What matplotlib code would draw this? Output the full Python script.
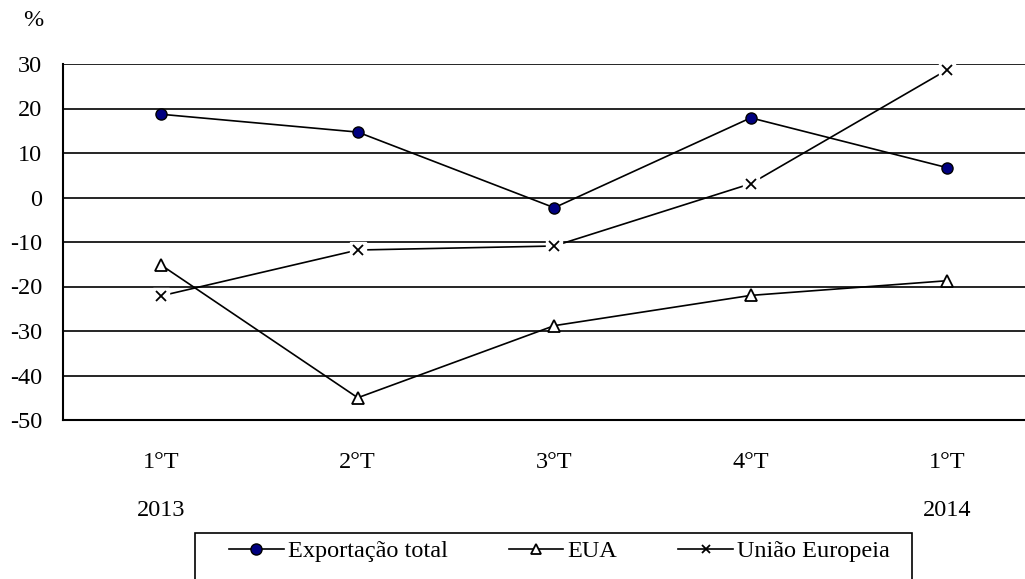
import matplotlib.pyplot as plt
from matplotlib.lines import Line2D
from matplotlib.patches import Rectangle
import numpy as np

plt.rcParams['font.family'] = ['Liberation Serif', 'DejaVu Serif']
plt.rcParams['axes.unicode_minus'] = False

quarters = ["1°T", "2°T", "3°T", "4°T", "1°T"]
years = ["2013", "", "", "", "2014"]
exportacao_total = [18.7, 14.7, -2.3, 17.9, 6.7]
eua = [-15.2, -45.0, -28.8, -22.0, -18.7]
uniao_europeia = [-22.1, -11.8, -10.9, 3.1, 28.7]

W, H = 1025, 579
fig = plt.figure(figsize=(W / 100, H / 100), dpi=100)
ax = fig.add_axes([63 / W, 1 - 420 / H, 1 - 63 / W, (420 - 64) / H])

x = np.arange(len(quarters))
fs = 17.5

# gridlines
for v in range(-40, 31, 10):
    ax.axhline(v, color="black", lw=1.2, zorder=1)

ax.plot(x, exportacao_total, color="black", lw=1.2, marker="o", ms=8,
        mfc="#000080", mec="black", mew=1, zorder=3)
ax.plot(x, eua, color="black", lw=1.2, marker="^", ms=9,
        mfc="white", mec="black", mew=1.3, zorder=3)
ax.plot(x, uniao_europeia, color="black", lw=1.2, zorder=3)
# white box behind the x markers
ax.plot(x, uniao_europeia, ls="none", marker="s", ms=11,
        mfc="white", mec="white", zorder=4)
ax.plot(x, uniao_europeia, ls="none", marker="x", ms=7,
        mec="black", mew=1.3, zorder=5)

ax.set_ylim(-50, 30)
ax.set_xlim(-0.5, -0.5 + (W - 63) / 196.5)
ax.set_yticks(range(-50, 31, 10))
ax.tick_params(axis="y", length=0, pad=15, labelsize=fs)
ax.set_xticks(x)
ax.set_xticklabels(quarters, fontsize=fs)
ax.tick_params(axis="x", length=0, pad=23)
for xi, yr in zip(x, years):
    ax.text(xi, -90 / 356, yr, transform=ax.get_xaxis_transform(),
            ha="center", va="center", fontsize=fs)
for s in ["top", "right"]:
    ax.spines[s].set_visible(False)
for s in ["left", "bottom"]:
    ax.spines[s].set_linewidth(1.5)

fig.text(33 / W, 1 - 21 / H, "%", fontsize=fs, ha="center", va="center")

# legend
handles = [
    Line2D([], [], color="black", lw=1.2, marker="o", ms=8, mfc="#000080", mec="black"),
    Line2D([], [], color="black", lw=1.2, marker="^", ms=7.5, mfc="white", mec="black", mew=1.3),
    Line2D([], [], color="black", lw=1.2, marker="x", ms=6, mec="black", mew=1.3),
]
fig.legend(handles, ["Exportação total", "EUA", "União Europeia"],
           loc="center left", bbox_to_anchor=(229 / W, 1 - 551 / H),
           ncol=3, fontsize=fs, frameon=False, handlelength=2.25,
           handletextpad=0.18, columnspacing=2.5, borderpad=0, borderaxespad=0)
fig.patches.append(Rectangle((195 / W, -0.05), (912 - 195) / W, 0.05 + 1 - 533 / H,
                             transform=fig.transFigure, fill=False,
                             edgecolor="black", lw=1.2))

fig.savefig("out.png", dpi=100)
